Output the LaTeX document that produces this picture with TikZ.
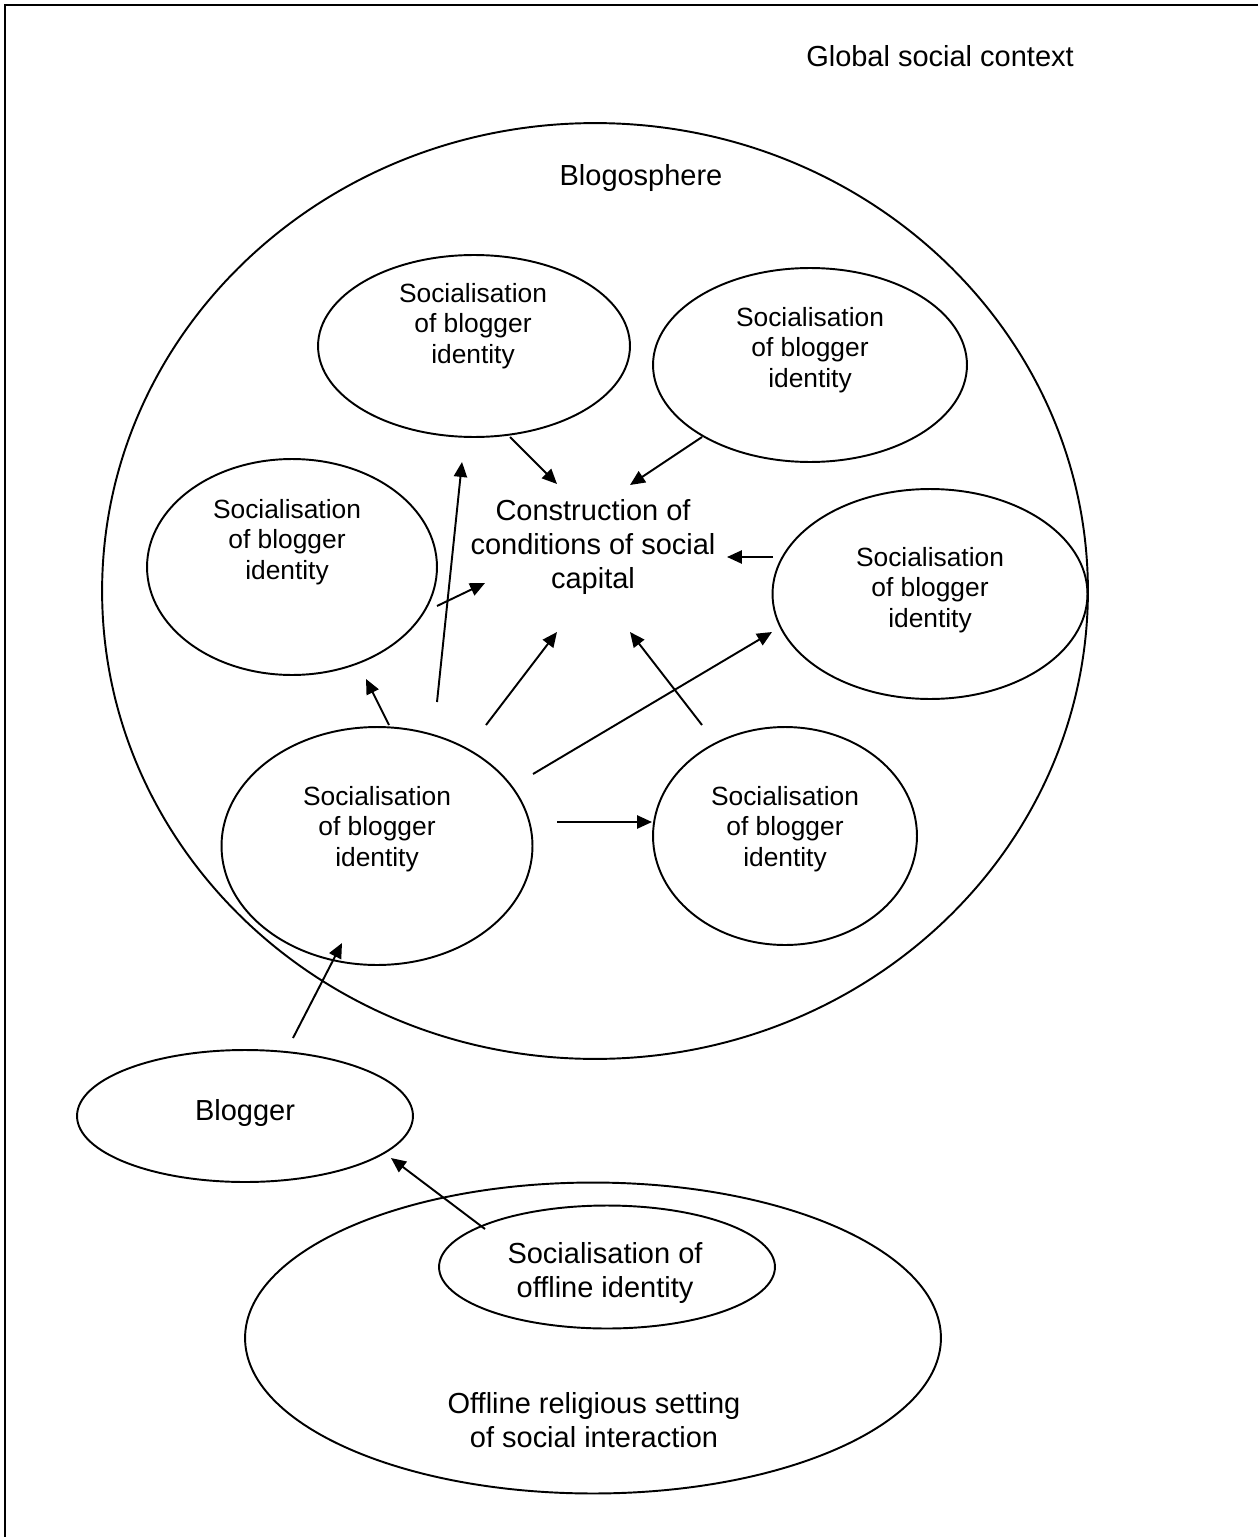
\documentclass[tikz,border=0pt]{standalone}
\usepackage{fontspec}
\setmainfont{Liberation Sans}
\usetikzlibrary{shapes.geometric,arrows.meta}

\tikzset{
  bubble/.style={draw,ellipse,line width=1.1pt,inner sep=0pt},
  bigtxt/.style={align=center,inner sep=0pt,font=\fontsize{16.5}{19.3}\selectfont},
  smalltxt/.style={align=center,inner sep=0pt,font=\fontsize{15}{17.3}\selectfont},
  arr/.style={->,>={Triangle[length=8.5pt,width=7.5pt]},line width=1.1pt}
}

\begin{document}
\begin{tikzpicture}[x=0.02cm,y=-0.02cm]

\useasboundingbox (0,0) rectangle (1258,1537);

% frame (only top and left edge show)
\draw[line width=1.1pt] (1258,5) -- (5,5) -- (5,1537);

\node[bigtxt] (global) at (940,56) {Global social context};

% blogosphere
\node[bubble,minimum width=19.72cm,minimum height=18.72cm] (sphere) at (595,591) {};
\node[bigtxt] (spheretxt) at (641,178) {Blogosphere};

\node[bubble,minimum width=6.24cm,minimum height=3.64cm] (s1) at (474,346) {};
\node[bubble,minimum width=6.28cm,minimum height=3.88cm] (s2) at (810,365) {};
\node[bubble,minimum width=5.80cm,minimum height=4.32cm] (s3) at (292,567) {};
\node[bubble,minimum width=6.30cm,minimum height=4.20cm] (s4) at (930,594) {};
\node[bubble,minimum width=6.22cm,minimum height=4.76cm] (s5) at (377,846) {};
\node[bubble,minimum width=5.28cm,minimum height=4.36cm] (s6) at (785,836) {};

\node[smalltxt] (t1) at (473,326) {Socialisation\\of blogger\\identity};
\node[smalltxt] (t2) at (810,350) {Socialisation\\of blogger\\identity};
\node[smalltxt] (t3) at (287,542) {Socialisation\\of blogger\\identity};
\node[smalltxt] (t4) at (930,590) {Socialisation\\of blogger\\identity};
\node[smalltxt] (t5) at (377,829) {Socialisation\\of blogger\\identity};
\node[smalltxt] (t6) at (785,829) {Socialisation\\of blogger\\identity};

\node[bigtxt] (capital) at (593,547) {Construction of\\conditions of social\\capital};

% offline side
\node[bubble,minimum width=6.72cm,minimum height=2.64cm] (blogger) at (245,1116) {};
\node[bigtxt] (bloggertxt) at (245,1113) {Blogger};
\node[bubble,minimum width=13.92cm,minimum height=6.22cm] (setting) at (593,1338) {};
\node[bigtxt] (settingtxt) at (594,1420) {Offline religious setting\\of social interaction};
\node[bubble,minimum width=6.72cm,minimum height=2.46cm] (offline) at (607,1267) {};
\node[bigtxt] (offlinetxt) at (605,1273) {Socialisation of\\offline identity};

% arrow ends
\coordinate (a1) at (510,437);  \coordinate (b1) at (557,484);
\coordinate (a2) at (702,437);  \coordinate (b2) at (630,485);
\coordinate (a3) at (773,557);  \coordinate (b3) at (727,557);
\coordinate (a4) at (437,606);  \coordinate (b4) at (485,583);
\coordinate (a5) at (437,702);  \coordinate (b5) at (462,462);
\coordinate (a6) at (486,725);  \coordinate (b6) at (557,632);
\coordinate (a7) at (702,725);  \coordinate (b7) at (630,632);
\coordinate (a8) at (533,774);  \coordinate (b8) at (772,632);
\coordinate (a9) at (389,725);  \coordinate (b9) at (366,679);
\coordinate (a10) at (557,822); \coordinate (b10) at (652,822);
\coordinate (a11) at (293,1038); \coordinate (b11) at (342,943);
\coordinate (a12) at (485,1229); \coordinate (b12) at (391,1158);

\foreach \i in {1,...,12}
  \draw[arr] (a\i) -- (b\i);

\end{tikzpicture}
\end{document}
